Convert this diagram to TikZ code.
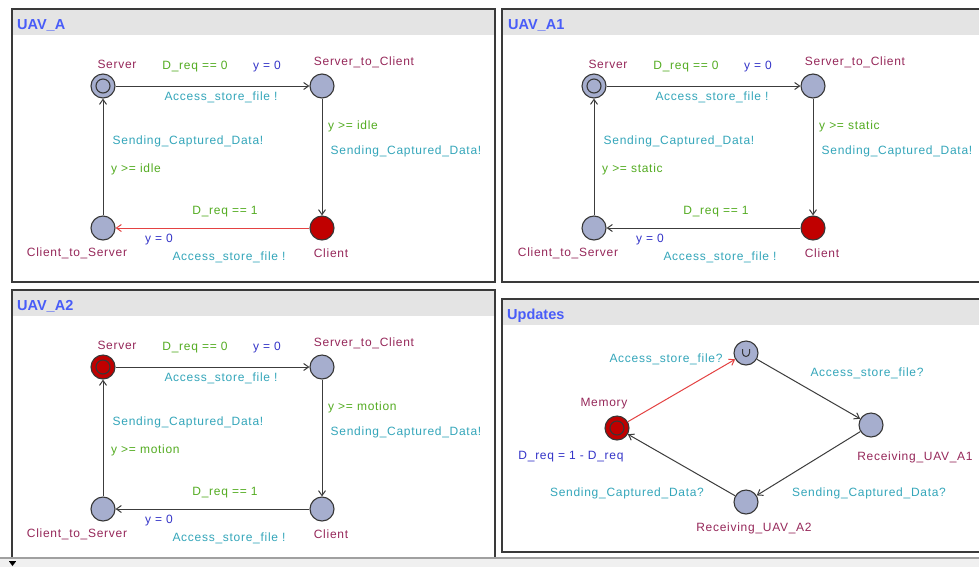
\documentclass[tikz,border=0pt]{standalone}
\usepackage{fontspec}
\setmainfont{Liberation Sans}
\newfontfamily\lblfont[LetterSpace=6]{Liberation Sans}
\usetikzlibrary{arrows.meta}
\definecolor{panelborder}{RGB}{58,58,58}
\definecolor{titlegray}{RGB}{228,228,228}
\definecolor{titleblue}{RGB}{72,92,248}
\definecolor{namecol}{RGB}{150,40,90}
\definecolor{guardcol}{RGB}{84,172,34}
\definecolor{synccol}{RGB}{52,166,186}
\definecolor{updcol}{RGB}{52,52,200}
\definecolor{locfill}{RGB}{166,174,206}
\definecolor{locred}{RGB}{192,0,0}
\definecolor{locborder}{RGB}{55,55,55}
\definecolor{edgecol}{RGB}{60,60,60}
\definecolor{edgered}{RGB}{228,66,66}
\definecolor{statusgray}{RGB}{240,240,240}
\definecolor{statusline}{RGB}{160,160,160}
\tikzset{
  panel/.style={draw=panelborder, line width=1.8pt},
  titlebar/.style={fill=titlegray},
  ptitle/.style={font=\fontsize{14.5}{16}\selectfont\bfseries, text=titleblue, inner sep=0pt, anchor=base west},
  lbl/.style={font=\lblfont\fontsize{12}{14}\selectfont, inner sep=0pt},
  lname/.style={lbl, text=namecol},
  lguard/.style={lbl, text=guardcol},
  lsync/.style={lbl, text=synccol},
  lupd/.style={lbl, text=updcol},
  loc/.style={circle, draw=locborder, line width=1.1pt, fill=locfill, minimum size=24pt, inner sep=0pt},
  redloc/.style={loc, fill=locred},
  innerring/.style={draw=locborder, line width=1.1pt},
  edge/.style={draw=edgecol, line width=1pt, -{Straight Barb[length=5pt,width=7pt]}},
  redge/.style={edge, draw=edgered},
}
% #1 prefix, #2 x shift, #3 y shift, #4 guard word, #5 server style, #6 client style, #7 client->cts edge style
\newcommand\uavmodel[7]{%
\begin{scope}[shift={(#2,#3)}]
  \node[#5] (#1s) at (103,86) {};
  \draw[innerring] (#1s.center) circle[radius=7pt];
  \node[loc] (#1stc) at (322,86) {};
  \node[#6] (#1c) at (322,228) {};
  \node[loc] (#1cts) at (103,228) {};
  \draw[edge] (#1s) -- (#1stc);
  \draw[edge] (#1stc) -- (#1c);
  \draw[#7] (#1c) -- (#1cts);
  \draw[edge] (#1cts) -- (#1s);
  \node[lname] (#1ls) at (117,64) {Server};
  \node[lname] (#1lstc) at (364,62) {Server\_to\_Client};
  \node[lname] (#1lc) at (331,253) {Client};
  \node[lname] (#1lcts) at (77,253) {Client\_to\_Server};
  \node[lguard] (#1g1) at (195,67) {D\_req == 0};
  \node[lupd] (#1u1) at (267,67) {y = 0};
  \node[lsync] (#1y1) at (221,97) {Access\_store\_file !};
  \node[lguard, anchor=west] (#1g2) at (328,126) {y >= #4};
  \node[lsync] (#1y2) at (406,151) {Sending\_Captured\_Data!};
  \node[lsync] (#1y3) at (188,141) {Sending\_Captured\_Data!};
  \node[lguard, anchor=west] (#1g3) at (111,169) {y >= #4};
  \node[lguard] (#1g4) at (225,212) {D\_req == 1};
  \node[lupd] (#1u2) at (159,240) {y = 0};
  \node[lsync] (#1y4) at (229,257) {Access\_store\_file !};
\end{scope}}
\begin{document}
\begin{tikzpicture}[x=1pt, y=-1pt]
\useasboundingbox (0,0) rectangle (979,566);
\clip (0,0) rectangle (979,566);
\fill[white] (0,0) rectangle (979,566);
% panels
\fill[titlebar] (12,9) rectangle (495,35);
\draw[panel] (12,9) rectangle (495,282);
\fill[titlebar] (502,9) rectangle (995,35);
\draw[panel] (502,9) rectangle (995,282);
\fill[titlebar] (12,290) rectangle (495,316);
\draw[panel] (12,290) rectangle (495,620);
\fill[titlebar] (502,299) rectangle (995,325);
\draw[panel] (502,299) rectangle (995,552);
\node[ptitle] (t1) at (17,29) {UAV\_A};
\node[ptitle] (t2) at (508,29) {UAV\_A1};
\node[ptitle] (t3) at (17,310) {UAV\_A2};
\node[ptitle] (t4) at (507,319) {Updates};
% UAV models
\uavmodel{a}{0}{0}{idle}{loc}{redloc}{redge}
\uavmodel{b}{491}{0}{static}{loc}{redloc}{edge}
\uavmodel{c}{0}{281}{motion}{redloc}{loc}{edge}
% Updates
\node[redloc] (mem) at (617,428) {};
\draw[innerring] (mem.center) circle[radius=7pt];
\node[loc] (urg) at (746,353) {};
\draw[draw=locborder, line width=1pt] (urg.center) ++(-3.5pt,4pt) -- ++(0pt,-4pt) arc[start angle=180, end angle=360, radius=3.5pt] -- ++(0pt,4pt);
\node[loc] (ra1) at (871,425) {};
\node[loc] (ra2) at (746,502) {};
\draw[redge] (mem) -- (urg);
\draw[edge] (urg) -- (ra1);
\draw[edge] (ra1) -- (ra2);
\draw[edge] (ra2) -- (mem);
\node[lname] (lmem) at (604,404) {Memory};
\node[lupd] (umem) at (571,457) {D\_req = 1 - D\_req};
\node[lsync] (s1) at (666,359) {Access\_store\_file?};
\node[lsync] (s2) at (867,373) {Access\_store\_file?};
\node[lname] (lra1) at (915,457) {Receiving\_UAV\_A1};
\node[lname] (lra2) at (754,528) {Receiving\_UAV\_A2};
\node[lsync] (s3) at (627,493) {Sending\_Captured\_Data?};
\node[lsync] (s4) at (869,493) {Sending\_Captured\_Data?};
% status strip
\fill[statusgray] (0,557.5) rectangle (979,567);
\draw[statusline, line width=1.2pt] (0,558) -- (979,558);
\draw[black, line width=0.8pt] (9,561) -- (16,561);
\fill[black] (9.5,562) -- (15.5,562) -- (12.5,566) -- cycle;
\end{tikzpicture}
\end{document}
